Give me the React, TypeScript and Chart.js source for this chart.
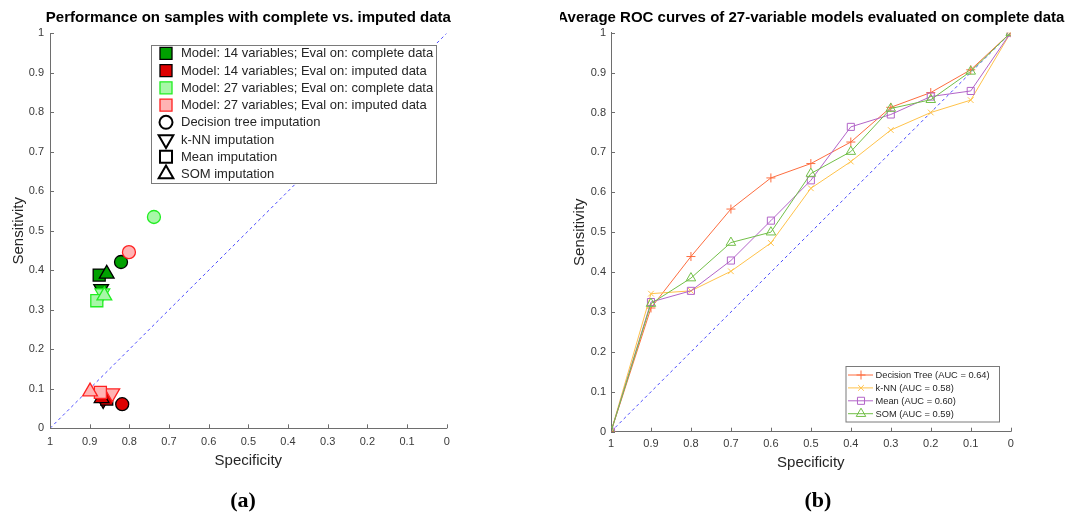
import React, { useEffect, useRef } from "react";
import { Chart, registerables } from "chart.js";
Chart.register(...registerables);

const FONT = '"Liberation Sans", Arial, Helvetica, sans-serif';

// ---------- Panel (a) data ----------
const IMPUTATION_METHODS = ["Decision tree", "k-NN", "Mean", "SOM"];
const SPEC_14_COMPLETE = [0.821, 0.871, 0.876, 0.857];
const SENS_14_COMPLETE = [0.421, 0.353, 0.388, 0.391];
const SPEC_14_IMPUTED = [0.818, 0.866, 0.857, 0.87];
const SENS_14_IMPUTED = [0.061, 0.072, 0.074, 0.076];
const SPEC_27_COMPLETE = [0.738, 0.868, 0.882, 0.863];
const SENS_27_COMPLETE = [0.535, 0.342, 0.323, 0.336];
const SPEC_27_IMPUTED = [0.801, 0.843, 0.873, 0.899];
const SENS_27_IMPUTED = [0.446, 0.089, 0.091, 0.093];
const GROUP_LABELS = [
  "Model: 14 variables; Eval on: complete data",
  "Model: 14 variables; Eval on: imputed data",
  "Model: 27 variables; Eval on: complete data",
  "Model: 27 variables; Eval on: imputed data",
];
const METHOD_LABELS = [
  "Decision tree imputation",
  "k-NN imputation",
  "Mean imputation",
  "SOM imputation",
];
const TITLE_A = "Performance on samples with complete vs. imputed data";

// ---------- Panel (b) data ----------
const ROC_SPECIFICITY = [1, 0.9, 0.8, 0.7, 0.6, 0.5, 0.4, 0.3, 0.2, 0.1, 0];
const ROC_DT = [0, 0.31, 0.439, 0.558, 0.636, 0.672, 0.726, 0.813, 0.85, 0.907, 1];
const ROC_KNN = [0, 0.346, 0.353, 0.402, 0.473, 0.61, 0.677, 0.756, 0.8, 0.831, 1];
const ROC_MEAN = [0, 0.325, 0.353, 0.429, 0.529, 0.63, 0.764, 0.795, 0.84, 0.854, 1];
const ROC_SOM = [0, 0.321, 0.385, 0.474, 0.5, 0.647, 0.702, 0.81, 0.832, 0.903, 1];
const ROC_LABELS = [
  "Decision Tree (AUC = 0.64)",
  "k-NN (AUC = 0.58)",
  "Mean (AUC = 0.60)",
  "SOM (AUC = 0.59)",
];
const TITLE_B = "Average ROC curves of 27-variable models evaluated on complete data";
const DIAGONAL_X = [1, 0];
const DIAGONAL_Y = [0, 1];

// ---------- styles ----------
const AXIS_COLOR = "#6e6e6e";
const TICK_COLOR = "#3a3a3a";
const TEXT_COLOR = "#262626";
const DIAG_COLOR = "#4a4aff";
const GROUP_STYLES = [
  { fill: "#00a000", stroke: "#000000" },
  { fill: "#dd0000", stroke: "#000000" },
  { fill: "#a8f7a8", stroke: "#22ee22" },
  { fill: "#ffb4b4", stroke: "#ff2222" },
];
const METHOD_SHAPES = [
  { style: "circle", rot: 0, r: 6.5 },
  { style: "triangle", rot: 180, r: 8.5 },
  { style: "rect", rot: 0, r: 8.5 },
  { style: "triangle", rot: 0, r: 8.5 },
];
const ROC_STYLES = [
  { color: "#fd6d3f", shape: "cross", r: 4.5 },
  { color: "#ffc24a", shape: "crossRot", r: 4 },
  { color: "#b264c8", shape: "rect", r: 5 },
  { color: "#72bf48", shape: "triangle", r: 5.5 },
];

const fmt = (v: number) => String(Math.round(v * 10) / 10);

function drawShape(
  ctx: CanvasRenderingContext2D,
  shape: string,
  x: number,
  y: number,
  r: number,
  rot: number,
  fill: string | null,
  stroke: string,
  lw: number
) {
  ctx.save();
  ctx.translate(x, y);
  ctx.rotate((rot * Math.PI) / 180);
  ctx.beginPath();
  if (shape === "circle") {
    ctx.arc(0, 0, r, 0, Math.PI * 2);
  } else if (shape === "rect") {
    const h = r * Math.SQRT1_2;
    ctx.rect(-h, -h, 2 * h, 2 * h);
  } else if (shape === "triangle") {
    for (let i = 0; i < 3; i++) {
      const a = (i * 2 * Math.PI) / 3;
      const px = Math.sin(a) * r;
      const py = -Math.cos(a) * r;
      if (i === 0) ctx.moveTo(px, py);
      else ctx.lineTo(px, py);
    }
    ctx.closePath();
  } else if (shape === "cross") {
    ctx.moveTo(-r, 0);
    ctx.lineTo(r, 0);
    ctx.moveTo(0, -r);
    ctx.lineTo(0, r);
  } else if (shape === "crossRot") {
    const h = r * Math.SQRT1_2;
    ctx.moveTo(-h, -h);
    ctx.lineTo(h, h);
    ctx.moveTo(-h, h);
    ctx.lineTo(h, -h);
  }
  if (fill) {
    ctx.fillStyle = fill;
    ctx.fill();
  }
  ctx.strokeStyle = stroke;
  ctx.lineWidth = lw;
  ctx.stroke();
  ctx.restore();
}

const frameBits = (title: string) => ({
  id: "frameBits",
  afterDraw(chart: any) {
    const { ctx, chartArea, scales } = chart;
    ctx.save();
    ctx.strokeStyle = AXIS_COLOR;
    ctx.lineWidth = 1;
    const xs = scales.x;
    const ys = scales.y;
    ctx.beginPath();
    xs.ticks.forEach((t: any) => {
      const px = Math.round(xs.getPixelForValue(t.value)) + 0.5;
      ctx.moveTo(px, chartArea.bottom);
      ctx.lineTo(px, chartArea.bottom - 4);
    });
    ys.ticks.forEach((t: any) => {
      const py = Math.round(ys.getPixelForValue(t.value)) + 0.5;
      ctx.moveTo(chartArea.left, py);
      ctx.lineTo(chartArea.left + 4, py);
    });
    ctx.stroke();
    ctx.fillStyle = "#000";
    ctx.font = `bold 15px ${FONT}`;
    ctx.textAlign = "center";
    ctx.textBaseline = "middle";
    ctx.fillText(title, (chartArea.left + chartArea.right) / 2, 18);
    ctx.restore();
  },
});

const legendA = {
  id: "legendA",
  afterDatasetsDraw(chart: any) {
    const ctx = chart.ctx as CanvasRenderingContext2D;
    const bx = 151, by = 45, bw = 285, bh = 138;
    ctx.save();
    ctx.fillStyle = "#fff";
    ctx.fillRect(bx, by, bw, bh);
    ctx.strokeStyle = "#7a7a7a";
    ctx.lineWidth = 1;
    ctx.strokeRect(bx + 0.5, by + 0.5, bw, bh);
    ctx.font = `13px ${FONT}`;
    ctx.fillStyle = TEXT_COLOR;
    ctx.textBaseline = "middle";
    ctx.textAlign = "left";
    const labels = [...GROUP_LABELS, ...METHOD_LABELS];
    labels.forEach((lab, i) => {
      const y = 53.3 + i * 17.25;
      if (i < 4) {
        const s = GROUP_STYLES[i];
        drawShape(ctx, "rect", 166, y, 8.5, 0, s.fill, s.stroke, 1.3);
      } else {
        const m = METHOD_SHAPES[i - 4];
        drawShape(ctx, m.style, 166, y, m.r, m.rot, null, "#000", 2);
      }
      ctx.fillStyle = TEXT_COLOR;
      ctx.fillText(lab, 181, y + 0.5);
    });
    ctx.restore();
  },
};

const legendB = {
  id: "legendB",
  afterDatasetsDraw(chart: any) {
    const ctx = chart.ctx as CanvasRenderingContext2D;
    const ox = 560;
    const bx = 845.5 - ox, by = 366, bw = 153.5, bh = 55.5;
    ctx.save();
    ctx.fillStyle = "#fff";
    ctx.fillRect(bx, by, bw, bh);
    ctx.strokeStyle = "#7a7a7a";
    ctx.lineWidth = 1;
    ctx.strokeRect(bx + 0.5, by + 0.5, bw, bh);
    ctx.font = `9.3px ${FONT}`;
    ctx.textBaseline = "middle";
    ctx.textAlign = "left";
    ROC_LABELS.forEach((lab, i) => {
      const y = 375 + i * 12.9;
      const s = ROC_STYLES[i];
      ctx.strokeStyle = s.color;
      ctx.lineWidth = 1;
      ctx.beginPath();
      ctx.moveTo(848 - ox, y);
      ctx.lineTo(873 - ox, y);
      ctx.stroke();
      drawShape(ctx, s.shape, 861 - ox, y, s.r, 0, null, s.color, 1);
      ctx.fillStyle = TEXT_COLOR;
      ctx.fillText(lab, 875.5 - ox, y + 0.5);
    });
    ctx.restore();
  },
};

function axisOpts(
  axis: "x" | "y",
  title: string,
  size: number,
  titlePad: number,
  tickPad: number
) {
  return {
    type: "linear",
    min: 0,
    max: 1,
    reverse: axis === "x",
    ticks: {
      stepSize: 0.1,
      padding: tickPad,
      color: TICK_COLOR,
      font: { family: FONT, size: 11 },
      callback: (v: any) => fmt(Number(v)),
      maxRotation: 0,
      autoSkip: false,
    },
    grid: { display: false, drawTicks: false },
    border: { display: true, color: AXIS_COLOR, width: 1 },
    title: {
      display: true,
      text: title,
      color: TEXT_COLOR,
      font: { family: FONT, size: 15 },
      padding: axis === "x" ? { top: 0, bottom: titlePad } : { top: titlePad, bottom: 0 },
    },
    afterFit: (s: any) => {
      if (axis === "x") s.height = size;
      else s.width = size;
    },
  };
}

function configA(): any {
  const specs = [SPEC_14_COMPLETE, SPEC_14_IMPUTED, SPEC_27_COMPLETE, SPEC_27_IMPUTED];
  const sens = [SENS_14_COMPLETE, SENS_14_IMPUTED, SENS_27_COMPLETE, SENS_27_IMPUTED];
  const groupSets = GROUP_LABELS.map((lab, g) => ({
    label: lab,
    data: IMPUTATION_METHODS.map((_, i) => ({ x: specs[g][i], y: sens[g][i] })),
    showLine: false,
    pointStyle: METHOD_SHAPES.map((m) => m.style),
    rotation: METHOD_SHAPES.map((m) => m.rot),
    pointRadius: METHOD_SHAPES.map((m) => m.r),
    pointBackgroundColor: GROUP_STYLES[g].fill,
    pointBorderColor: GROUP_STYLES[g].stroke,
    pointBorderWidth: 1.3,
    order: 4 - g,
  }));
  return {
    type: "scatter",
    data: {
      datasets: [
        ...groupSets,
        {
          label: "diag",
          data: DIAGONAL_X.map((x, i) => ({ x, y: DIAGONAL_Y[i] })),
          showLine: true,
          borderColor: DIAG_COLOR,
          borderWidth: 1,
          borderDash: [3, 3],
          pointRadius: 0,
          order: 10,
        },
      ],
    },
    options: {
      responsive: false,
      animation: false,
      events: [],
      layout: { padding: { top: 33.3, right: 83.3, left: 0, bottom: 0 } },
      plugins: { legend: { display: false }, tooltip: { enabled: false } },
      scales: {
        x: axisOpts("x", "Specificity", 60.7, 19, 7),
        y: axisOpts("y", "Sensitivity", 50, 10, 6),
      },
    },
    plugins: [legendA, frameBits(TITLE_A)],
  };
}

function configB(): any {
  const series = [ROC_DT, ROC_KNN, ROC_MEAN, ROC_SOM];
  const sets = ROC_LABELS.map((lab, k) => ({
    label: lab,
    data: ROC_SPECIFICITY.map((x, i) => ({ x, y: series[k][i] })),
    showLine: true,
    borderColor: ROC_STYLES[k].color,
    borderWidth: 1,
    pointStyle: ROC_STYLES[k].shape,
    pointRadius: ROC_STYLES[k].r,
    pointBorderColor: ROC_STYLES[k].color,
    pointBackgroundColor: "rgba(0,0,0,0)",
    pointBorderWidth: 1,
    order: 4 - k,
  }));
  return {
    type: "scatter",
    data: {
      datasets: [
        ...sets,
        {
          label: "diag",
          data: DIAGONAL_X.map((x, i) => ({ x, y: DIAGONAL_Y[i] })),
          showLine: true,
          borderColor: DIAG_COLOR,
          borderWidth: 1,
          borderDash: [3, 3],
          pointRadius: 0,
          order: 10,
        },
      ],
    },
    options: {
      responsive: false,
      animation: false,
      events: [],
      layout: { padding: { top: 32.7, right: 56.3, left: 0, bottom: 0 } },
      plugins: { legend: { display: false }, tooltip: { enabled: false } },
      scales: {
        x: axisOpts("x", "Specificity", 60.3, 20, 6),
        y: axisOpts("y", "Sensitivity", 51, 11, 5),
      },
    },
    plugins: [legendB, frameBits(TITLE_B)],
  };
}

function ChartBox(props: { make: () => any; left: number; width: number; height: number }) {
  const ref = useRef<HTMLCanvasElement>(null);
  useEffect(() => {
    const chart = new Chart(ref.current as HTMLCanvasElement, props.make());
    return () => chart.destroy();
  }, []);
  return (
    <canvas
      ref={ref}
      width={props.width}
      height={props.height}
      style={{ position: "absolute", left: props.left, top: 0, width: props.width, height: props.height }}
    />
  );
}

const captionStyle = (cx: number): React.CSSProperties => ({
  position: "absolute",
  left: cx - 30,
  width: 60,
  top: 486,
  textAlign: "center",
  fontFamily: '"Liberation Serif", "DejaVu Serif", serif',
  fontWeight: "bold",
  fontSize: 22,
  lineHeight: "28px",
  color: "#000",
});

export default function App() {
  return (
    <div style={{ position: "absolute", left: 0, top: 0, width: 1067, height: 517, background: "#fff", overflow: "hidden" }}>
      <ChartBox make={configA} left={0} width={530} height={489} />
      <ChartBox make={configB} left={560} width={507} height={492} />
      <div style={captionStyle(243)}>(a)</div>
      <div style={captionStyle(818)}>(b)</div>
    </div>
  );
}
